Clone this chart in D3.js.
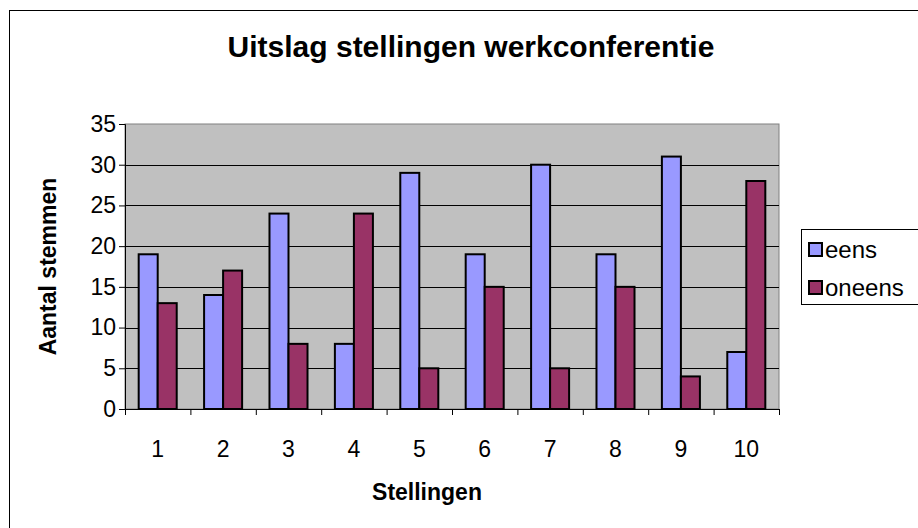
<!DOCTYPE html>
<html>
<head>
<meta charset="utf-8">
<script src="https://cdn.jsdelivr.net/npm/d3@7"></script>
<style>
  html, body { margin: 0; padding: 0; background: #fff; }
  svg { display: block; font-family: Arial, "Liberation Sans", sans-serif; }
</style>
</head>
<body>
<svg id="chart" width="918" height="528"></svg>
<script>
const categories = ["1", "2", "3", "4", "5", "6", "7", "8", "9", "10"];
const seriesNames = ["eens", "oneens"];
const eens = [19, 14, 24, 8, 29, 19, 30, 19, 31, 7];
const oneens = [13, 17, 8, 24, 5, 15, 5, 15, 4, 28];
const yTicks = [0, 5, 10, 15, 20, 25, 30, 35];
const colors = ["#9999ff", "#993366"];
const titleText = "Uitslag stellingen werkconferentie";
const xTitle = "Stellingen";
const yTitle = "Aantal stemmen";

const FS = 23;
const svg = d3.select("#chart");
// outer chart border
svg.append("rect").attr("x", 9.5).attr("y", 10.5).attr("width", 940).attr("height", 540)
  .attr("fill", "#fff").attr("stroke", "#000").attr("stroke-width", 1);

const plot = { left: 125, top: 124, right: 779, bottom: 409 };
const x = d3.scaleBand().domain(categories).range([plot.left, plot.right]).paddingInner(0).paddingOuter(0);
const xs = d3.scaleBand().domain(seriesNames).range([0, x.bandwidth()]).paddingInner(0).paddingOuter(0.72);
const y = d3.scaleLinear().domain([0, 35]).range([plot.bottom, plot.top]);

// plot background
svg.append("rect").attr("x", plot.left).attr("y", plot.top)
  .attr("width", plot.right - plot.left).attr("height", plot.bottom - plot.top)
  .attr("fill", "#c0c0c0").attr("stroke", "#808080").attr("stroke-width", 1);

// gridlines
svg.append("g").selectAll("line").data(yTicks.filter(d => d > 0 && d < 35)).join("line")
  .attr("x1", plot.left).attr("x2", plot.right)
  .attr("y1", d => Math.round(y(d)) + 0.5).attr("y2", d => Math.round(y(d)) + 0.5)
  .attr("stroke", "#000").attr("stroke-width", 1);

// bars
const data = categories.map((c, i) => ({ c, vals: [eens[i], oneens[i]] }));
const groups = svg.append("g").selectAll("g").data(data).join("g")
  .attr("transform", d => `translate(${x(d.c)},0)`);
groups.selectAll("rect").data(d => d.vals.map((v, j) => ({ v, s: seriesNames[j], j }))).join("rect")
  .attr("x", d => xs(d.s)).attr("width", xs.bandwidth())
  .attr("y", d => y(d.v)).attr("height", d => y(0) - y(d.v))
  .attr("fill", d => colors[d.j]).attr("stroke", "#000").attr("stroke-width", 2);

// y axis
const yAxis = d3.axisLeft(y).tickValues(yTicks).tickSize(6).tickPadding(3).tickFormat(d3.format("d"));
const gy = svg.append("g").attr("transform", `translate(${plot.left},0)`).call(yAxis);
gy.select(".domain").attr("stroke", "#000");
gy.selectAll(".tick line").attr("stroke", "#000");
gy.selectAll("text").attr("font-size", FS).attr("font-family", "Arial, 'Liberation Sans', sans-serif").attr("fill", "#000");

// x axis
const xTickScale = d3.scaleLinear().domain([0, categories.length]).range([plot.left, plot.right]);
const gx = svg.append("g").attr("transform", `translate(0,${plot.bottom})`)
  .call(d3.axisBottom(xTickScale).tickValues(d3.range(categories.length + 1)).tickSize(6).tickFormat(""));
gx.select(".domain").attr("stroke", "#000");
gx.selectAll(".tick line").attr("stroke", "#000");
svg.append("g").selectAll("text").data(categories).join("text")
  .attr("x", d => x(d) + x.bandwidth() / 2).attr("y", 457)
  .attr("text-anchor", "middle").attr("font-size", FS).text(d => d);

// titles
svg.append("text").attr("x", 471).attr("y", 57).attr("text-anchor", "middle")
  .attr("font-size", 30).attr("font-weight", "bold").text(titleText);
svg.append("text").attr("x", 427).attr("y", 500).attr("text-anchor", "middle")
  .attr("font-size", FS).attr("font-weight", "bold").text(xTitle);
svg.append("text").attr("transform", `translate(56,${(plot.top + plot.bottom) / 2}) rotate(-90)`)
  .attr("text-anchor", "middle").attr("font-size", FS).attr("font-weight", "bold").text(yTitle);

// legend
const lg = svg.append("g");
lg.append("rect").attr("x", 801.5).attr("y", 229.5).attr("width", 140).attr("height", 75)
  .attr("fill", "#fff").attr("stroke", "#000");
seriesNames.forEach((s, i) => {
  const cy = 250 + i * 38;
  lg.append("rect").attr("x", 809).attr("y", cy - 7).attr("width", 13).attr("height", 13)
    .attr("fill", colors[i]).attr("stroke", "#000").attr("stroke-width", 2);
  lg.append("text").attr("x", 825).attr("y", cy + 8).attr("font-size", 24).text(s);
});
</script>
</body>
</html>
